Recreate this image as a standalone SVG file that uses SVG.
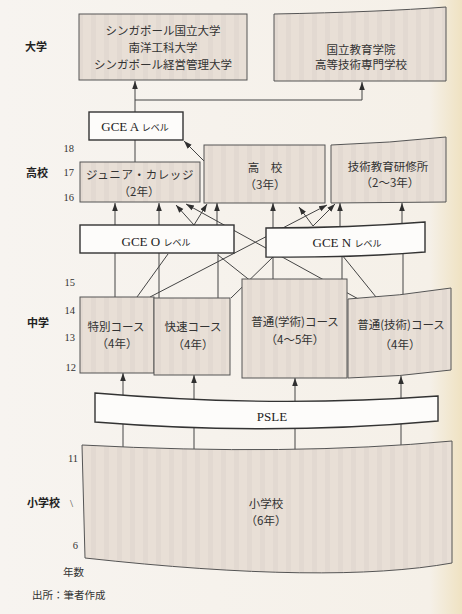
<svg xmlns="http://www.w3.org/2000/svg" width="462" height="614" viewBox="0 0 462 614">
<defs>
<linearGradient id="bg" x1="0" y1="0" x2="1" y2="0">
<stop offset="0" stop-color="#f7f4f0"/>
<stop offset="0.93" stop-color="#f5f0e8"/>
<stop offset="1" stop-color="#efe2c2"/>
</linearGradient>
<pattern id="tex" width="13" height="20" patternUnits="userSpaceOnUse">
<rect width="13" height="20" fill="#e8dfd6"/>
<rect x="0" width="5" height="20" fill="#ddd4cd" opacity="0.45"/>
</pattern>
<marker id="ah" viewBox="0 0 10 10" refX="10" refY="5" markerWidth="8" markerHeight="8" orient="auto" markerUnits="userSpaceOnUse">
<path d="M0,1.5 L10,5 L0,8.5 z" fill="#2f2f2f"/>
</marker>
<style>
.box{fill:url(#tex);stroke:#555;stroke-width:1}
.wbox{fill:#fdfcfa;stroke:#333;stroke-width:1.4}
.t{font-family:"Noto Sans CJK JP","Noto Sans",sans-serif;font-size:11.5px;fill:#333;text-anchor:middle}
.lbl{font-family:"Noto Sans CJK JP","Noto Sans",sans-serif;font-size:11px;font-weight:bold;fill:#222}
.yr{font-family:"Liberation Serif",serif;font-size:10.5px;fill:#333;text-anchor:end}
.g{font-family:"Liberation Serif",serif;font-size:13px;fill:#222;text-anchor:middle}
.k{font-family:"Noto Sans CJK JP",sans-serif;font-size:9px}
.c{stroke:#444;stroke-width:1;fill:none}
</style>
</defs>
<rect width="462" height="614" fill="url(#bg)"/>

<g id="connectors" class="c">
<path d="M135,112 V81" marker-end="url(#ah)"/>
<path d="M135,100 H362 V82" marker-end="url(#ah)"/>
<path d="M135,140 V162"/>
<path d="M205,162 L184,141" marker-end="url(#ah)"/>
<path d="M115,225 V203" marker-end="url(#ah)"/>
<path d="M159,225 V203" marker-end="url(#ah)"/>
<path d="M194,225 L176,205" marker-end="url(#ah)"/>
<path d="M194,225 L207,204" marker-end="url(#ah)"/>
<path d="M217,225 V203" marker-end="url(#ah)"/>
<path d="M273,228 V203" marker-end="url(#ah)"/>
<path d="M313,226 L299,207" marker-end="url(#ah)"/>
<path d="M313,226 L335,204" marker-end="url(#ah)"/>
<path d="M340,227 V203" marker-end="url(#ah)"/>
<path d="M402,224 V203" marker-end="url(#ah)"/>
<path d="M150,297 L327,205" marker-end="url(#ah)"/>
<path d="M362,301 L186,204" marker-end="url(#ah)"/>
<path d="M115,253 V297"/>
<path d="M137,297 L168,254"/>
<path d="M159,253 V298"/>
<path d="M218,254 V298"/>
<path d="M218,255 L252,282"/>
<path d="M231,298 L273,257"/>
<path d="M273,256 V280"/>
<path d="M342,255 V280"/>
<path d="M342,255 L376,297"/>
<path d="M403,252 V296"/>
<path d="M123,452 V373" marker-end="url(#ah)"/>
<path d="M194,455 V375" marker-end="url(#ah)"/>
<path d="M295,456 V378" marker-end="url(#ah)"/>
<path d="M401,452 V376" marker-end="url(#ah)"/>
</g>

<g id="univ1">
<rect class="box" x="79" y="14" width="168" height="66"/>
<text class="t" x="163" y="35">シンガポール国立大学</text>
<text class="t" x="163" y="52">南洋工科大学</text>
<text class="t" x="163" y="69">シンガポール経営管理大学</text>
</g>
<g id="univ2">
<path class="box" d="M274,14 Q380,12 446,7 L446,81 L274,81 Z"/>
<text class="t" x="361" y="54">国立教育学院</text>
<text class="t" x="361" y="69">高等技術専門学校</text>
</g>
<g id="gce-a">
<rect class="wbox" x="89" y="112" width="94" height="28"/>
<text class="g" x="135" y="131">GCE A <tspan class="k">レベル</tspan></text>
</g>
<g id="jc">
<rect class="box" x="80" y="162" width="120" height="40"/>
<text class="t" x="140" y="179" letter-spacing="0.6">ジュニア・カレッジ</text>
<text class="t" x="139" y="196">（2年）</text>
</g>
<g id="koko">
<rect class="box" x="204" y="145" width="121" height="58"/>
<text class="t" x="265" y="172">高　校</text>
<text class="t" x="265" y="189">（3年）</text>
</g>
<g id="ite">
<path class="box" d="M331,145 Q390,143 446,137 L446,202 L331,203 Z"/>
<text class="t" x="388" y="171">技術教育研修所</text>
<text class="t" x="390" y="187">（2〜3年）</text>
</g>
<g id="gce-o">
<rect class="wbox" x="80" y="225" width="154" height="28"/>
<text class="g" x="156" y="246">GCE O <tspan class="k">レベル</tspan></text>
</g>
<g id="gce-n">
<path class="wbox" d="M266,228 Q350,228 425,222 L425,252 Q350,258 266,257 Z"/>
<text class="g" x="347" y="247">GCE N <tspan class="k">レベル</tspan></text>
</g>
<g id="special">
<rect class="box" x="80" y="297" width="74" height="76"/>
<text class="t" x="116" y="331">特別コース</text>
<text class="t" x="117" y="348">（4年）</text>
</g>
<g id="express">
<rect class="box" x="154" y="298" width="76" height="77"/>
<text class="t" x="193" y="331">快速コース</text>
<text class="t" x="193" y="349">（4年）</text>
</g>
<g id="normal-academic">
<rect class="box" x="242" y="279" width="105" height="99"/>
<text class="t" x="295" y="326">普通(学術)コース</text>
<text class="t" x="295" y="344">（4〜5年）</text>
</g>
<g id="normal-technical">
<path class="box" d="M348,299 Q400,296 451,288 L451,370 Q400,377 348,378 Z"/>
<text class="t" x="401" y="329">普通(技術)コース</text>
<text class="t" x="400" y="349">（4年）</text>
</g>
<g id="psle">
<path class="wbox" d="M95,393 Q270,408 438,396 L438,421 Q270,436 95,422 Z"/>
<text class="g" x="272" y="421">PSLE</text>
</g>
<g id="primary">
<path class="box" d="M82,445 Q290,456 452,441 L452,563 Q330,585 85,558 Z"/>
<text class="t" x="266" y="508">小学校</text>
<text class="t" x="266" y="525">（6年）</text>
</g>

<g id="labels">
<text class="lbl" x="25" y="51">大学</text>
<text class="lbl" x="26" y="177">高校</text>
<text class="lbl" x="27" y="327">中学</text>
<text class="lbl" x="27" y="507">小学校</text>
<text x="70" y="507" font-family="Liberation Serif,serif" font-size="11" fill="#444">\</text>
<text class="yr" x="74" y="152">18</text>
<text class="yr" x="74" y="176">17</text>
<text class="yr" x="74" y="201">16</text>
<text class="yr" x="75" y="286">15</text>
<text class="yr" x="75" y="314">14</text>
<text class="yr" x="75" y="341">13</text>
<text class="yr" x="76" y="371">12</text>
<text class="yr" x="78" y="462">11</text>
<text class="yr" x="78" y="549">6</text>
<text x="63" y="576" font-family="Noto Sans CJK JP,sans-serif" font-size="10.5" fill="#333">年数</text>
<text x="32" y="599" font-family="Noto Sans CJK JP,sans-serif" font-size="10.5" fill="#333">出所：筆者作成</text>
</g>
</svg>
